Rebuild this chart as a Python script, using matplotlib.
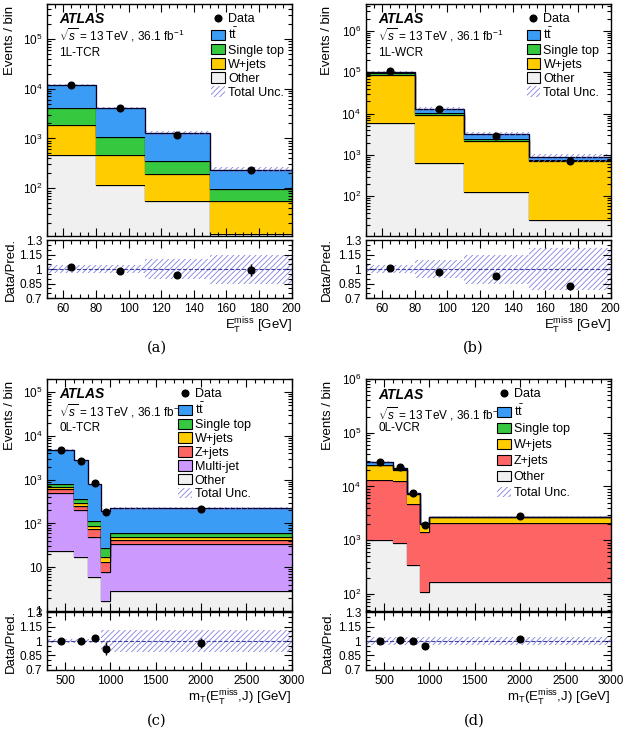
import numpy as np
import matplotlib
matplotlib.use("Agg")
import matplotlib.pyplot as plt
from matplotlib.ticker import MultipleLocator, LogLocator, NullFormatter, FuncFormatter, FixedLocator
from matplotlib.patches import Patch
from matplotlib.lines import Line2D

plt.rcParams['font.family'] = 'Liberation Sans'
plt.rcParams['mathtext.fontset'] = 'custom'
plt.rcParams['mathtext.rm'] = 'Liberation Sans'
plt.rcParams['mathtext.it'] = 'Liberation Sans:italic'
plt.rcParams['mathtext.bf'] = 'Liberation Sans:bold'
plt.rcParams['hatch.linewidth'] = 0.6

#bin edges
edges_1l = [50, 80, 110, 150, 200]
edges_0l = [300, 600, 750, 900, 1000, 3000]

#(a) 1L-TCR
tcr1l_ttbar = [8070, 3110, 915, 135]
tcr1l_stop = [2190, 586, 157, 43]
tcr1l_wjets = [1376, 347, 138, 43]
tcr1l_other = [464, 117, 55, 12]
tcr1l_data = [12100, 4030, 1190, 229]
tcr1l_ratio = [1.02, 0.98, 0.94, 0.99]
tcr1l_ratio_err = [0.01, 0.016, 0.03, 0.065]
tcr1l_unc = [0.04, 0.04, 0.10, 0.15]

#(b) 1L-WCR
wcr1l_ttbar = [7500, 2500, 770, 130]
wcr1l_stop = [8500, 1500, 180, 40]
wcr1l_wjets = [82000, 8470, 2070, 693]
wcr1l_other = [6000, 630, 130, 27]
wcr1l_data = [106000, 12700, 2900, 730]
wcr1l_ratio = [1.01, 0.965, 0.93, 0.82]
wcr1l_ratio_err = [0.004, 0.01, 0.02, 0.04]
wcr1l_unc = [0.04, 0.09, 0.15, 0.22]

#(c) 0L-TCR
tcr0l_ttbar = [4055, 2390, 667, 170, 160]
tcr0l_stop = [128, 81, 28, 11, 11]
tcr0l_wjets = [67, 39, 13, 3.5, 6]
tcr0l_zjets = [100, 50, 25, 5.8, 9.4]
tcr0l_multijet = [477, 185, 43, 5.9, 30.7]
tcr0l_other = [23, 17, 6, 1.7, 2.85]
tcr0l_data = [4850, 2720, 830, 182, 214]
tcr0l_ratio = [1.0, 1.0, 1.03, 0.92, 0.98]
tcr0l_ratio_err = [0.015, 0.02, 0.035, 0.07, 0.05]
tcr0l_unc = [0.025, 0.025, 0.025, 0.11, 0.11]

#(d) 0L-VCR
vcr0l_ttbar = [3200, 1700, 150, 50, 60]
vcr0l_stop = [800, 500, 100, 30, 40]
vcr0l_wjets = [11600, 7600, 2350, 570, 600]
vcr0l_zjets = [12200, 11700, 4455, 1290, 1890]
vcr0l_other = [1000, 890, 345, 110, 163]
vcr0l_data = [28800, 22800, 7400, 1950, 2800]
vcr0l_ratio = [0.995, 1.01, 0.995, 0.95, 1.02]
vcr0l_ratio_err = [0.006, 0.007, 0.012, 0.024, 0.02]
vcr0l_unc = [0.04, 0.04, 0.04, 0.04, 0.04]

#colours
c_tt = '#3b9cf5'
c_st = '#36c940'
c_wj = '#ffcc00'
c_zj = '#fd6464'
c_mj = '#cc99ff'
c_other = '#f0f0f0'
c_hatch = '#8080e0'

lab_tt = r'$\mathrm{t\bar{t}}$'
xlab_met = r'$\mathrm{E}_{\mathrm{T}}^{\mathrm{miss}}$ [GeV]'
xlab_mt = r'$\mathrm{m}_{\mathrm{T}}(\mathrm{E}_{\mathrm{T}}^{\mathrm{miss}}$,J) [GeV]'


def log_fmt(v, pos):
    if v <= 1.0001:
        return '1'
    if abs(v - 10) < 1e-6:
        return '10'
    return r'$10^{%d}$' % round(np.log10(v))


def style_ticks(ax):
    ax.tick_params(which='both', direction='in', top=True, right=True, labelsize=8.5)
    ax.tick_params(which='major', length=6, width=0.8)
    ax.tick_params(which='minor', length=3, width=0.8)
    for s in ax.spines.values():
        s.set_linewidth(1.0)


def draw_panel(left, main_bottom, ratio_bottom, edges, comps, data, ratio, ratio_err, unc,
               ylim, region, xlabel, xmajor, xminor, leg_x, leg_y, leg_space, text_y,
               ylab_x, caption, cap_x, cap_y):
    edges = np.array(edges, dtype=float)
    centers = (edges[:-1] + edges[1:]) / 2
    unc = np.array(unc)

    ax = fig.add_axes([left, main_bottom, 0.387, 0.316])
    axr = fig.add_axes([left, ratio_bottom, 0.387, 0.079])

    #stacked histogram, bottom to top
    bottom = np.full(len(centers), 1e-3)
    for label, vals, color in comps:
        top = bottom + np.array(vals, dtype=float)
        ax.stairs(top, edges, baseline=bottom, fill=True, color=color, lw=0)
        ax.stairs(top, edges, baseline=None, color='black', lw=0.9)
        bottom = top
    total = bottom

    ax.stairs(total * (1 + unc), edges, baseline=total * (1 - unc), fill=True,
              facecolor='none', edgecolor=c_hatch, hatch='//////', lw=0)
    ax.stairs(total, edges, baseline=None, color='#000040', ls='--', lw=0.8)
    ax.plot(centers, data, 'o', color='black', ms=4.8)

    ax.set_yscale('log')
    ax.set_ylim(*ylim)
    ax.set_xlim(edges[0], edges[-1])
    ax.yaxis.set_major_locator(LogLocator(base=10, numticks=12))
    ax.yaxis.set_minor_locator(LogLocator(base=10, subs=np.arange(2, 10), numticks=12))
    ax.yaxis.set_major_formatter(FuncFormatter(log_fmt))
    ax.yaxis.set_minor_formatter(NullFormatter())
    ax.xaxis.set_major_locator(MultipleLocator(xmajor))
    ax.xaxis.set_minor_locator(MultipleLocator(xminor))
    ax.tick_params(labelbottom=False)
    style_ticks(ax)
    ax.set_ylabel('Events / bin', fontsize=9.5, loc='top')
    ax.yaxis.set_label_coords(ylab_x, 0.99)

    ax.text(0.05, text_y[0], 'ATLAS', transform=ax.transAxes, fontsize=10,
            fontweight='bold', fontstyle='italic', va='center')
    ax.text(0.05, text_y[1], r'$\sqrt{s}$ = 13 TeV , 36.1 fb$^{-1}$', transform=ax.transAxes,
            fontsize=8.5, va='center')
    ax.text(0.05, text_y[2], region, transform=ax.transAxes, fontsize=8.5, va='center')

    #legend, top to bottom
    handles = [Line2D([], [], marker='o', color='black', ls='none', ms=4.8)]
    labels = ['Data']
    for label, vals, color in comps[::-1]:
        handles.append(Patch(facecolor=color, edgecolor='black', lw=0.8))
        labels.append(label)
    handles.append(Patch(facecolor='none', edgecolor=c_hatch, hatch='//////', lw=0))
    labels.append('Total Unc.')
    ax.legend(handles, labels, loc='upper left', bbox_to_anchor=(leg_x, leg_y),
              frameon=False, fontsize=9, handlelength=1.1, handleheight=0.9,
              handletextpad=0.25, labelspacing=leg_space, borderpad=0, borderaxespad=0)

    #ratio panel
    axr.stairs(1 + unc, edges, baseline=1 - unc, fill=True, facecolor='none',
               edgecolor=c_hatch, hatch='//////', lw=0)
    axr.axhline(1, ls='--', color='#4040a0', lw=0.8)
    axr.errorbar(centers, ratio, yerr=ratio_err, fmt='o', color='black', ms=4.8,
                 elinewidth=1, capsize=0)
    axr.set_xlim(edges[0], edges[-1])
    axr.set_ylim(0.7, 1.3)
    axr.yaxis.set_major_locator(FixedLocator([0.7, 0.85, 1.0, 1.15, 1.3]))
    axr.set_yticklabels(['0.7', '0.85', '1', '1.15', '1.3'])
    axr.yaxis.set_minor_locator(MultipleLocator(0.05))
    axr.xaxis.set_major_locator(MultipleLocator(xmajor))
    axr.xaxis.set_minor_locator(MultipleLocator(xminor))
    style_ticks(axr)
    axr.set_ylabel('Data/Pred.', fontsize=9.5)
    axr.yaxis.set_label_coords(ylab_x, 0.5)
    axr.set_xlabel(xlabel, fontsize=9.5, loc='right', labelpad=1)

    fig.text(cap_x, cap_y, caption, fontsize=10.5, family='DejaVu Serif', ha='center', va='center')


fig = plt.figure(figsize=(6.32, 7.34), dpi=100)

comps_a = [('Other', tcr1l_other, c_other), ('W+jets', tcr1l_wjets, c_wj),
           ('Single top', tcr1l_stop, c_st), (lab_tt, tcr1l_ttbar, c_tt)]
draw_panel(0.0744, 0.6785, 0.594, edges_1l, comps_a, tcr1l_data, tcr1l_ratio, tcr1l_ratio_err,
           tcr1l_unc, (11, 5e5), '1L-TCR', xlab_met, 20, 5, 0.672, 0.962, 0.13,
           (0.935, 0.865, 0.79), -0.125, '(a)', 0.248, 0.527)

comps_b = [('Other', wcr1l_other, c_other), ('W+jets', wcr1l_wjets, c_wj),
           ('Single top', wcr1l_stop, c_st), (lab_tt, wcr1l_ttbar, c_tt)]
draw_panel(0.579, 0.6785, 0.594, edges_1l, comps_b, wcr1l_data, wcr1l_ratio, wcr1l_ratio_err,
           wcr1l_unc, (11, 4.5e6), '1L-WCR', xlab_met, 20, 5, 0.657, 0.962, 0.13,
           (0.935, 0.865, 0.79), -0.135, '(b)', 0.749, 0.527)

comps_c = [('Other', tcr0l_other, c_other), ('Multi-jet', tcr0l_multijet, c_mj),
           ('Z+jets', tcr0l_zjets, c_zj), ('W+jets', tcr0l_wjets, c_wj),
           ('Single top', tcr0l_stop, c_st), (lab_tt, tcr0l_ttbar, c_tt)]
draw_panel(0.0744, 0.1676, 0.0872, edges_0l, comps_c, tcr0l_data, tcr0l_ratio, tcr0l_ratio_err,
           tcr0l_unc, (1, 2e5), '0L-TCR', xlab_mt, 500, 100, 0.535, 0.962, 0.11,
           (0.935, 0.86, 0.79), -0.125, '(c)', 0.248, 0.018)

comps_d = [('Other', vcr0l_other, c_other), ('Z+jets', vcr0l_zjets, c_zj),
           ('W+jets', vcr0l_wjets, c_wj), ('Single top', vcr0l_stop, c_st),
           (lab_tt, vcr0l_ttbar, c_tt)]
draw_panel(0.579, 0.1676, 0.0872, edges_0l, comps_d, vcr0l_data, vcr0l_ratio, vcr0l_ratio_err,
           vcr0l_unc, (48, 1e6), '0L-VCR', xlab_mt, 500, 100, 0.535, 0.962, 0.28,
           (0.93, 0.85, 0.79), -0.13, '(d)', 0.75, 0.018)

plt.savefig("out.png", dpi=100)
